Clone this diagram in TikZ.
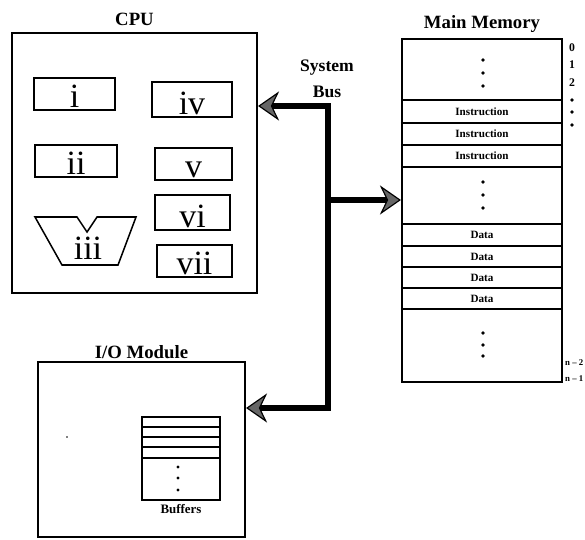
\documentclass[tikz,border=0pt]{standalone}
\usepackage{fontspec}
\setmainfont{Liberation Serif}
\usetikzlibrary{arrows.meta, fit, positioning}
\tikzset{
  unitbox/.style={draw, line width=1.8pt, inner sep=0pt},
  regbox/.style={draw, line width=1.3pt, inner sep=0pt},
  regfont/.style={font=\fontsize{29}{29}\selectfont, anchor=base, inner sep=0pt},
  title/.style={font=\fontsize{16}{16}\selectfont\bfseries},
  rowfont/.style={font=\fontsize{9.5}{10}\selectfont\bfseries},
  addrfont/.style={font=\fontsize{10}{10}\selectfont\bfseries, inner sep=0pt},
  rowline/.style={line width=1.3pt},
  bus/.style={line width=5.5pt, line join=miter}
}
\begin{document}
\begin{tikzpicture}[x=0.3mm, y=-0.3mm,
    >={Stealth[length=18pt, width=25pt, inset=6pt, fill=black!60, line width=1pt]}]
\useasboundingbox (0,0) rectangle (585,540);

% the three units
\node[unitbox, fit={(12,33)(257,293)}] (cpu) {};
\node[unitbox, fit={(402,39)(562,382)}] (mem) {};
\node[unitbox, fit={(38,362)(245,537)}] (io) {};
\node[title, above=2pt of cpu] (cputitle) {CPU};
\node[title, above=1pt of mem] (memtitle) {Main Memory};
\node[title, above=-2pt of io] (iotitle) {I/O Module};

% CPU registers
\foreach \nm/\xa/\ya/\xb/\yb/\txt in {ri/34/78/115/110/i, rii/35/145/117/177/ii,
    riv/152/82/232/117/iv, rv/155/148/232/180/v, rvi/155/195/230/230/vi, rvii/157/245/232/277/vii}
{
  \node[regbox, fit={(\xa,\ya)(\xb,\yb)}] (\nm) {};
  \path (\nm.south) ++(0,-3) node[regfont] (\nm txt) {\txt};
}
\draw[line width=1.3pt, line join=miter]
      (35,217) -- (77,217) -- (87,232) -- (97,217) -- (136,217) -- (118,265) -- (62,265) -- cycle;
\node[regfont] (alu) at (88,259) {iii};

% system bus
\node[title, align=center, font=\fontsize{15}{22}\selectfont\bfseries] (buslbl) at (327,79) {System\\Bus};
\coordinate (bustop) at (328,106);
\coordinate (busmid) at (328,200);
\coordinate (busbot) at (328,408);
\draw[bus, <->] (bustop -| cpu.east) -- (bustop) -- (busbot) -- (busbot -| io.east);
\draw[bus, ->] (busmid) -- (busmid -| mem.west);

% main memory
\foreach \y in {100,123,145,167,224,246,267,288,309}
  \draw[rowline] (mem.west |- 0,\y) -- (mem.east |- 0,\y);
\foreach \y [count=\k] in {111.5,134,156}
  \node[rowfont] (ins\k) at (482,\y) {Instruction};
\foreach \y [count=\k] in {235,256.5,277.5,298.5}
  \node[rowfont] (dat\k) at (482,\y) {Data};
\foreach \y in {60,73,86,182,195,208,333,345,356}
  \fill (483,\y) circle (1.8);
\foreach \y/\txt [count=\k] in {48/0,65/1,83/2}
  \node[addrfont] (adr\k) at (572,\y) {\txt};
\foreach \y in {100,112,125}
  \fill (572,\y) circle (1.8);
\node[addrfont, font=\fontsize{7.5}{8}\selectfont\bfseries, anchor=west] (adrn2) at (565,363) {n -- 2};
\node[addrfont, font=\fontsize{7.5}{8}\selectfont\bfseries, anchor=west] (adrn1) at (565,379) {n -- 1};

% I/O buffers
\node[draw, line width=1.3pt, inner sep=0pt, fit={(142,417)(220,500)}] (buf) {};
\foreach \y in {427,437,447,458}
  \draw[line width=1.1pt] (buf.west |- 0,\y) -- (buf.east |- 0,\y);
\foreach \y in {467,478,490}
  \fill (178,\y) circle (1.6);
\node[font=\fontsize{11}{11}\selectfont\bfseries, below=0pt of buf] (buftitle) {Buffers};
\fill (67,437) circle (0.8);
\end{tikzpicture}
\end{document}
